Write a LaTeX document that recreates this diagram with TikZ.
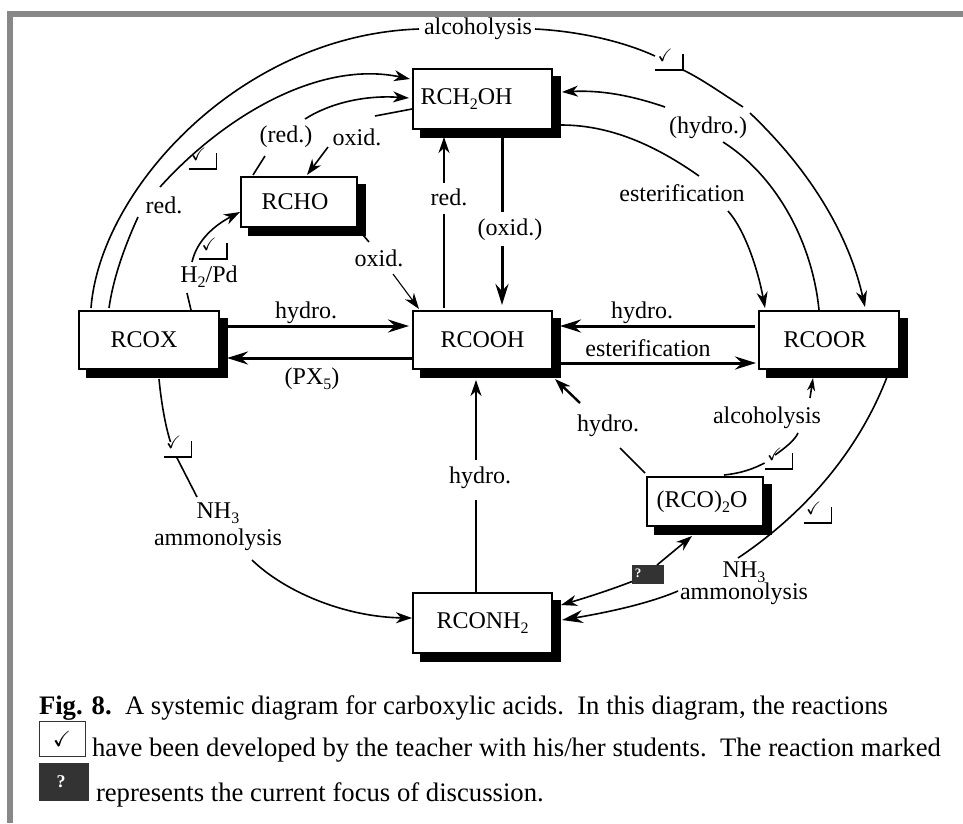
\documentclass[tikz,border=0pt]{standalone}
\usepackage{fontspec}
\usepackage{amssymb}
\setmainfont{Liberation Serif}
\usetikzlibrary{arrows.meta,calc,shadows}
\definecolor{framegray}{HTML}{888888}
\definecolor{markgray}{HTML}{333333}
\begin{document}
\begin{tikzpicture}[x=1pt,y=-1pt,
    every node/.style={font=\fontsize{24}{27}\selectfont,inner sep=0pt,outer sep=0pt},
    substance/.style={draw,fill=white,line width=1.5pt,
        copy shadow={fill=black,draw=black,shadow xshift=8pt,shadow yshift=-8pt}},
    tick/.style={minimum width=28pt,minimum height=16pt,font=\fontsize{18}{18}\selectfont},
    conn/.style={line width=1.6pt},
    heavy/.style={line width=3pt},
    medium/.style={line width=2pt},
    arr/.style={-{Stealth[length=16pt,width=11pt,inset=5pt]}},
    bigarr/.style={-{Stealth[length=21pt,width=13pt,inset=7pt]}},
    caption/.style={anchor=base west,font=\fontsize{26.7}{28}\selectfont}]
\def\lowr#1{\raisebox{-5pt}{\fontsize{16}{16}\selectfont #1}}
\def\tickmark{\smash{\raisebox{1pt}{\checkmark}}\hspace*{8pt}}
\useasboundingbox (0,0) rectangle (963,823);
\fill[framegray] (7,11) rectangle (963,16.5);
\fill[framegray] (7,11) rectangle (13,823);
% substances
\node[substance,minimum width=139pt,minimum height=60pt] (rch) at (482.5,99) {RCH\lowr{2}OH\hspace*{32pt}};
\node[substance,minimum width=116pt,minimum height=50pt] (rcho) at (299,202) {RCHO\hspace*{8pt}};
\node[substance,minimum width=140pt,minimum height=58pt] (rcox) at (149,340) {RCOX\hspace*{10pt}};
\node[substance,minimum width=139pt,minimum height=58pt] (rcooh) at (482.5,340) {RCOOH};
\node[substance,minimum width=140pt,minimum height=58pt] (rcoor) at (829,340) {RCOOR\hspace*{8pt}};
\node[substance,minimum width=116pt,minimum height=49pt] (anh) at (705,501.5) {(RCO)\lowr{2}O\hspace*{6pt}};
\node[substance,minimum width=139pt,minimum height=60pt] (rconh) at (482.5,623) {RCONH\lowr{2}};
% labels
\node (lalc) at (478,29) {alcoholysis};
\node (lhyb) at (708,128) {(hydro.)};
\node (lest) at (682,193) {esterification};
\node (lredb) at (164,205) {red.};
\node (lredc) at (286,137) {(red.)};
\node (loxa) at (357,137) {oxid.};
\node (loxb) at (379,258) {oxid.};
\node (lredv) at (449,197) {red.};
\node (loxv) at (510,230) {(oxid.)};
\node (lpd) at (209,277) {H\lowr{2}/Pd};
\node (lhya) at (306,313) {hydro.};
\node (lpx) at (312,379) {(PX\lowr{5})};
\node (lhyc) at (642,313) {hydro.};
\node (lesb) at (648,348) {esterification};
\node (lhyd) at (608,426) {hydro.};
\node (lalb) at (767,418) {alcoholysis};
\node (lhyv) at (480,478) {hydro.};
\node[align=center] (lam) at (218,527) {NH\lowr{3}\\ammonolysis};
\node[align=center] (lamb) at (744,583) {NH\lowr{3}\\[-5pt]ammonolysis};
% ticks
\node[tick] (ta) at (669,62) {\tickmark};
\node[tick] (tb) at (202.5,161) {\tickmark};
\node[tick] (tc) at (213,251) {\tickmark};
\node[tick] (td) at (177.5,449) {\tickmark};
\node[tick] (te) at (778.5,461) {\tickmark};
\node[tick] (tf) at (817.5,515) {\tickmark};
\foreach \t in {ta,tb,tc,td,te,tf}
    \draw[line width=1.4pt] (\t.south west) -| (\t.north east);
\node[fill=markgray,minimum width=32pt,minimum height=19pt,text=white,font=\fontsize{13}{13}\selectfont\bfseries] (qb) at (648,574.5) {\raisebox{3pt}{?}\hspace*{20pt}};
% alcoholysis
\draw[conn] ($(rcox.north west)+(12,-3)$) .. controls (100,190) and (240,35) .. ($(lalc.west)+(-5,0)$);
\draw[conn] ($(lalc.east)+(3,0)$) .. controls (575,31) and (620,40) .. ($(ta.north west)+(0,2)$);
\coordinate (gapa) at (743,107);
\coordinate (gapb) at (750,113);
\draw[conn] (ta.south east) .. controls (700,78) and (720,92) .. (gapa);
\draw[conn,arr] (gapb) .. controls (815,175) and (850,240) .. ($(rcoor.north west)+(106,-4)$);
% red.
\draw[conn] ($(rcox.north west)+(30,-3)$) .. controls (113,280) and (123,250) .. ($(lredb.center)+(-26,12)$);
\draw[conn,arr] ($(lredb.center)+(-4,-18)$) .. controls (225,115) and (320,60) .. ($(rch.north west)+(-3,10)$);
% (red.) and oxid. at RCHO
\draw[conn] ($(rcho.north west)+(12,-2)$) -- ($(lredc.center)+(-21,19)$);
\draw[conn,arr] ($(lredc.center)+(19,-18)$) .. controls (330,103) and (365,95) .. ($(rch.north west)+(-4,29)$);
\draw[conn] ($(rch.north west)+(-1,40)$) -- ($(loxa.center)+(18,-21)$);
\draw[conn,arr] ($(loxa.center)+(-29,10)$) -- ($(rcho.north west)+(66,-2)$);
\draw[conn] ($(rcho.south east)+(6,8)$) -- ($(loxb.center)+(-10,-16)$);
\draw[line width=1.1pt,arr] ($(loxb.center)+(14,16)$) -- ($(rcooh.north west)+(6,-2)$);
% H2/Pd
\draw[conn] ($(rcox.north west)+(112,-1)$) -- ($(lpd.center)+(-22,16)$);
\draw[conn,arr] ($(lpd.center)+(-17,-15)$) .. controls (197,240) and (215,225) .. ($(rcho.north west)+(-1,35)$);
% verticals
\draw[medium] ($(rcooh.north west)+(31,-3)$) -- ($(lredv.center)+(-5,17)$);
\draw[medium,arr] ($(lredv.center)+(-5,-14)$) -- ($(rch.south west)+(31,8)$);
\draw[heavy] ($(rch.south west)+(89,8)$) -- ($(loxv.center)+(-8,-18)$);
\draw[heavy,bigarr] ($(loxv.center)+(-8,16)$) -- ($(rcooh.north west)+(89,-6)$);
\draw[medium] ($(rconh.north west)+(63,-1)$) -- ($(lhyv.center)+(-4,22)$);
\draw[medium,arr] ($(lhyv.center)+(-4,-18)$) -- ($(rcooh.south west)+(63,11)$);
% horizontals
\draw[heavy,bigarr] ($(rcox.north east)+(8,15)$) -- ($(rcooh.north west)+(-4,15)$);
\draw[heavy,bigarr] ($(rcooh.south west)+(0,-11)$) -- ($(rcox.south east)+(8,-11)$);
\draw[heavy,bigarr] ($(rcoor.north west)+(-4,15)$) -- ($(rcooh.north east)+(8,15)$);
\draw[heavy,bigarr] ($(rcooh.south east)+(9,-6)$) -- ($(rcoor.south west)+(-3,-6)$);
% (hydro.)
\draw[conn] ($(rcoor.north west)+(60,-1)$) .. controls (812,240) and (775,175) .. ($(lhyb.center)+(15,14)$);
\draw[conn,arr] ($(lhyb.center)+(-43,-21)$) .. controls (630,95) and (600,90) .. ($(rch.north east)+(10,23)$);
% esterification
\draw[conn] ($(rch.south east)+(9,-4)$) .. controls (610,125) and (655,145) .. ($(lest.center)+(17,-17)$);
\draw[conn,arr] ($(lest.center)+(46,18)$) .. controls (745,230) and (758,270) .. ($(rcoor.north west)+(6,-3)$);
% anhydride
\draw[conn] ($(anh.north west)+(-2,-4)$) -- ($(lhyd.center)+(12,22)$);
\draw[line width=2.4pt,arr] ($(lhyd.center)+(-28,-23)$) -- ($(rcooh.south east)+(3,10)$);
\draw[conn] ($(anh.north west)+(77,-2)$) .. controls (743,473) and (755,468) .. ($(te.west)+(0,2)$);
\draw[conn] ($(te.center)+(-3.5,-6)$) .. controls (785,448) and (795,440) .. ($(lalb.center)+(31,15)$);
\draw[conn,-{Stealth[length=13pt,width=8pt,inset=4pt]}] ($(lalb.center)+(43,-20)$) -- ($(rcoor.south west)+(54,9)$);
% ammonolysis
\draw[conn] ($(rcox.south west)+(80,10)$) .. controls (161,400) and (165,425) .. ($(td.north west)+(7,1)$);
\draw[conn] ($(td.south west)+(13,0)$) -- ($(lam.center)+(-21,-30)$);
\draw[conn,arr] ($(lam.center)+(34,33)$) .. controls (285,592) and (345,617) .. ($(rconh.north west)+(-1,25)$);
\draw[conn] ($(rcoor.south east)+(-12,8)$) .. controls (855,460) and (795,520) .. ($(lamb.center)+(-6,-25)$);
\draw[conn,bigarr] ($(lamb.center)+(-66,8)$) .. controls (650,603) and (610,612) .. ($(rconh.south east)+(10,-33)$);
% focus
\draw[conn,arr] ($(qb.north)+(9,0)$) -- ($(anh.south west)+(45,10)$);
\draw[conn,arr] ($(qb.west)+(0,7)$) .. controls (610,590) and (585,598) .. ($(rconh.north east)+(9,12)$);
% caption
\node[caption] (capa) at (39,714) {\textbf{Fig. 8.}\ \ A systemic diagram for carboxylic acids.\ \ In this diagram, the reactions};
\node[draw=markgray,line width=1pt,minimum width=46pt,minimum height=35pt,font=\fontsize{22}{22}\selectfont] (capt) at (62,738.5) {\checkmark};
\node[caption] (capb) at (92,756) {have been developed by the teacher with his/her students.\ \ The reaction marked};
\node[fill=markgray,text=white,minimum width=50pt,minimum height=38pt,font=\fontsize{18}{18}\selectfont\bfseries] (capq) at (64,782) {?\hspace*{6pt}};
\node[caption] (capc) at (96,801) {represents the current focus of discussion.};
\end{tikzpicture}
\end{document}
